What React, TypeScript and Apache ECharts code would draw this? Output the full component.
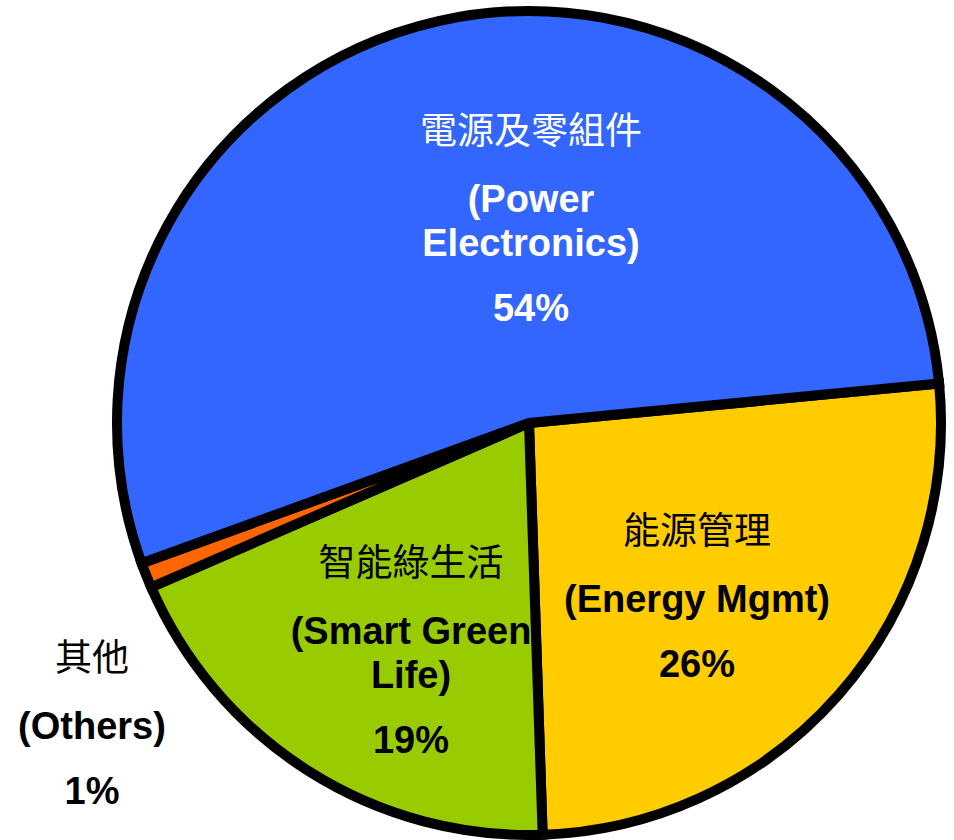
import React, { useEffect, useRef } from "react";
import * as echarts from "echarts";

// Data (clockwise from the right-hand edge)
const namesZh = ["能源管理", "智能綠生活", "其他", "電源及零組件"];
const namesEn = ["(Energy Mgmt)", "(Smart Green\nLife)", "(Others)", "(Power\nElectronics)"];
const shares = [26, 19, 1, 54];
const colors = ["#FFCC00", "#99CC00", "#FF6600", "#3366FF"];
const labelColors = ["#000000", "#000000", "#000000", "#FFFFFF"];

// Layout constants (top-centre of each label block)
const labelAnchors: number[][] = [
  [697, 479],
  [411, 511],
  [92, 606],
  [531, 79],
];

export default function App() {
  const ref = useRef<HTMLDivElement>(null);

  useEffect(() => {
    if (!ref.current) return;
    const chart = echarts.init(ref.current, null, { renderer: "svg" });
    const data = shares.map((v, i) => ({
      name: namesEn[i],
      value: v,
      itemStyle: { color: colors[i] },
      label: { color: labelColors[i] },
    }));
    chart.setOption({
      animation: false,
      backgroundColor: "#ffffff",
      series: [
        {
          type: "pie",
          center: [529, 423],
          radius: 412,
          startAngle: 5.5,
          clockwise: true,
          avoidLabelOverlap: false,
          silent: true,
          emphasis: { disabled: true },
          itemStyle: {
            borderColor: "#000000",
            borderWidth: 10,
            borderJoin: "miter",
            borderMiterLimit: 10,
          },
          label: {
            show: true,
            position: "inside",
            formatter: (p: any) => {
              const i = p.dataIndex;
              const en = namesEn[i]
                .split("\n")
                .map((s) => `{en|${s}}`)
                .join("\n");
              return `{zh|${namesZh[i]}}\n${en}\n{pct|${shares[i]}%}`;
            },
            rich: {
              zh: {
                fontFamily: "Noto Sans CJK TC",
                fontSize: 37,
                fontWeight: "normal",
                lineHeight: 98,
              },
              en: {
                fontFamily: "Liberation Sans, Arial, sans-serif",
                fontSize: 38,
                fontWeight: "bold",
                lineHeight: 44,
              },
              pct: {
                fontFamily: "Liberation Sans, Arial, sans-serif",
                fontSize: 38,
                fontWeight: "bold",
                lineHeight: 86,
              },
            },
          },
          labelLine: { show: false },
          labelLayout: (params: any) => ({
            x: labelAnchors[params.dataIndex][0],
            y: labelAnchors[params.dataIndex][1],
            align: "center",
            verticalAlign: "top",
          }),
          data,
        },
      ],
    });
    return () => chart.dispose();
  }, []);

  return (
    <div
      ref={ref}
      style={{ position: "fixed", left: 0, top: 0, width: 954, height: 840 }}
    />
  );
}
